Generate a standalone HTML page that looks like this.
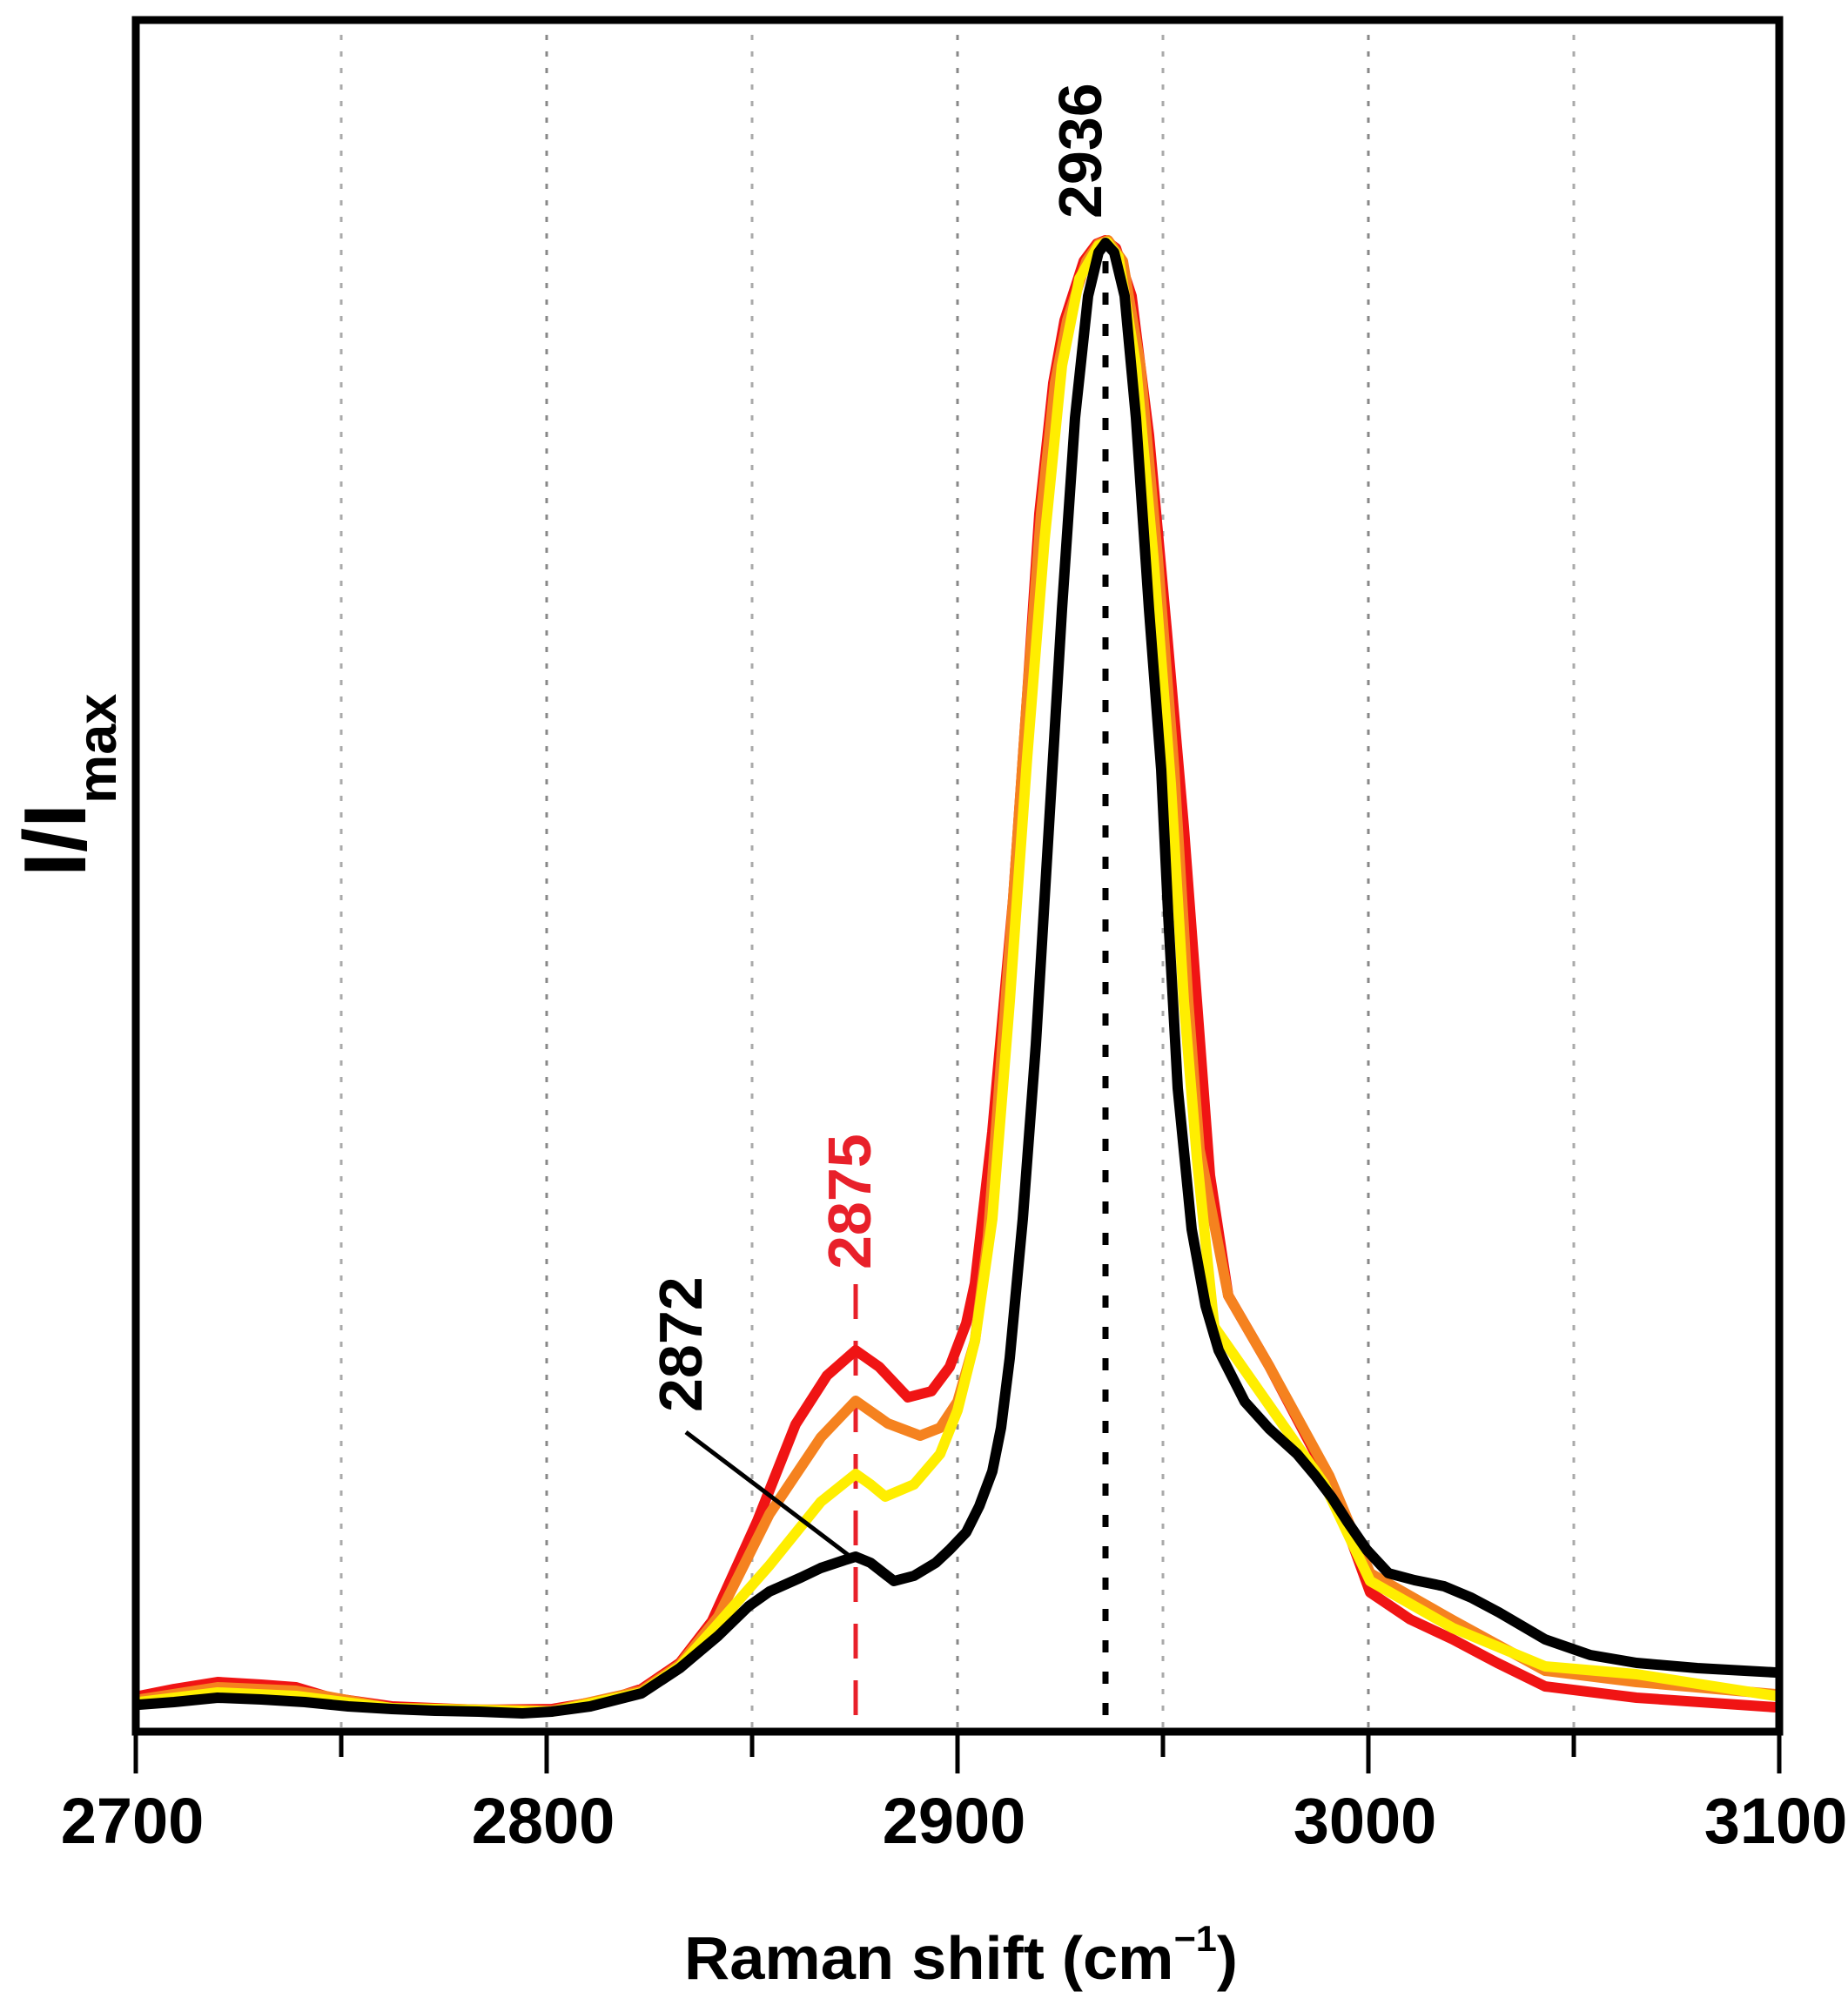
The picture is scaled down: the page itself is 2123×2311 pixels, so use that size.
<!DOCTYPE html>
<html><head><meta charset="utf-8"><style>
html,body{margin:0;padding:0;background:#fff}
svg{display:block}
text{font-family:"Liberation Sans",Arial,sans-serif;font-weight:bold}
</style></head><body>
<svg width="2123" height="2311" viewBox="0 0 2123 2311" xmlns="http://www.w3.org/2000/svg">
<g stroke-width="3" stroke-dasharray="6 13">
<line x1="392" y1="40" x2="392" y2="1985" stroke="#aaa"/>
<line x1="628" y1="40" x2="628" y2="1985" stroke="#888"/>
<line x1="864" y1="40" x2="864" y2="1985" stroke="#aaa"/>
<line x1="1100" y1="40" x2="1100" y2="1985" stroke="#888"/>
<line x1="1336" y1="40" x2="1336" y2="1985" stroke="#aaa"/>
<line x1="1572" y1="40" x2="1572" y2="1985" stroke="#888"/>
<line x1="1808" y1="40" x2="1808" y2="1985" stroke="#aaa"/>
</g>
<line x1="983" y1="1475" x2="983" y2="1989" stroke="#e8202a" stroke-width="5" stroke-dasharray="40 25"/>
<line x1="1270" y1="300" x2="1270" y2="1989" stroke="#000" stroke-width="7" stroke-dasharray="14 22"/>
<g fill="none" stroke-linejoin="round" stroke-linecap="round" stroke-width="12">
<polyline stroke="#f01414" points="160,1948 200,1940 250,1932 300,1935 340,1938 380,1950 450,1960 550,1964 634,1963 700,1952 737,1940 781,1910 818,1862 870,1747 914,1636 950,1580 983,1551 1010,1570 1043,1605 1070,1598 1091,1570 1110,1520 1120,1474 1140,1300 1164,1032 1180,800 1194,590 1210,440 1223,368 1245,300 1260,280 1270,276 1282,285 1300,340 1320,500 1340,720 1360,950 1375,1150 1390,1350 1411,1488 1458,1569 1527,1700 1574,1829 1620,1860 1669,1883 1720,1910 1775,1937 1880,1950 2040,1961"/>
<polyline stroke="#f5821f" points="160,1952 250,1938 340,1942 450,1962 634,1965 737,1942 781,1912 825,1857 884,1739 943,1651 983,1609 1020,1635 1057,1649 1080,1640 1100,1610 1120,1540 1135,1420 1150,1220 1164,1032 1180,800 1196,590 1212,440 1226,368 1248,300 1262,280 1273,276 1290,300 1310,420 1330,640 1349,884 1365,1150 1378,1320 1411,1488 1458,1569 1527,1695 1574,1807 1669,1861 1775,1919 1880,1932 2040,1946"/>
<polyline stroke="#ffee00" points="160,1955 250,1944 340,1948 450,1962 634,1966 737,1944 781,1914 825,1865 884,1798 943,1725 983,1693 1000,1705 1017,1719 1050,1705 1080,1670 1100,1620 1120,1540 1140,1400 1160,1150 1180,870 1200,620 1220,420 1240,320 1262,282 1272,278 1285,295 1305,420 1325,640 1345,900 1360,1150 1375,1330 1395,1524 1458,1614 1521,1704 1574,1816 1669,1870 1775,1914 1880,1923 2040,1948"/>
<polyline stroke="#000" points="160,1958 200,1955 250,1950 300,1952 350,1955 400,1960 450,1963 500,1965 550,1966 600,1968 634,1966 678,1960 737,1945 781,1916 825,1879 860,1845 884,1828 920,1812 943,1801 970,1792 983,1788 1000,1795 1027,1816 1050,1810 1075,1795 1091,1780 1110,1760 1125,1730 1140,1690 1150,1640 1160,1560 1175,1400 1190,1200 1205,950 1220,700 1235,480 1250,340 1262,290 1270,279 1280,290 1292,340 1305,480 1320,700 1334,884 1342,1050 1353,1250 1369,1412 1385,1500 1400,1551 1430,1610 1458,1641 1490,1670 1511,1695 1530,1720 1548,1748 1570,1780 1595,1807 1625,1815 1659,1822 1690,1835 1722,1852 1775,1883 1827,1901 1880,1910 1950,1916 2040,1921"/>
</g>
<line x1="788" y1="1645" x2="977" y2="1788" stroke="#000" stroke-width="5"/>
<rect x="156" y="23" width="1888" height="1966" fill="none" stroke="#000" stroke-width="9"/>
<g stroke="#000" stroke-width="5">
<line x1="156" y1="1989" x2="156" y2="2037"/><line x1="628" y1="1989" x2="628" y2="2037"/><line x1="1100" y1="1989" x2="1100" y2="2037"/><line x1="1572" y1="1989" x2="1572" y2="2037"/><line x1="2044" y1="1989" x2="2044" y2="2037"/>
<line x1="392" y1="1989" x2="392" y2="2018"/><line x1="864" y1="1989" x2="864" y2="2018"/><line x1="1336" y1="1989" x2="1336" y2="2018"/><line x1="1808" y1="1989" x2="1808" y2="2018"/>
</g>
<g font-size="74" text-anchor="middle" fill="#000">
<text x="152" y="2117">2700</text><text x="624" y="2117">2800</text><text x="1096" y="2117">2900</text><text x="1568" y="2117">3000</text><text x="2040" y="2117">3100</text>
</g>
<text x="786" y="2273" font-size="70" textLength="636" lengthAdjust="spacingAndGlyphs">Raman shift (cm<tspan font-size="42" dy="-32">−1</tspan><tspan dy="32">)</tspan></text>
<text transform="translate(98,1007) rotate(-90)" font-size="101">I/I<tspan dy="35" font-size="63">max</tspan></text>
<text transform="translate(1265,251) rotate(-90)" font-size="70" fill="#000">2936</text>
<text transform="translate(1000,1458) rotate(-90)" font-size="70" fill="#e8202a">2875</text>
<text transform="translate(806,1622) rotate(-90)" font-size="70" fill="#000">2872</text>
</svg>
</body></html>
